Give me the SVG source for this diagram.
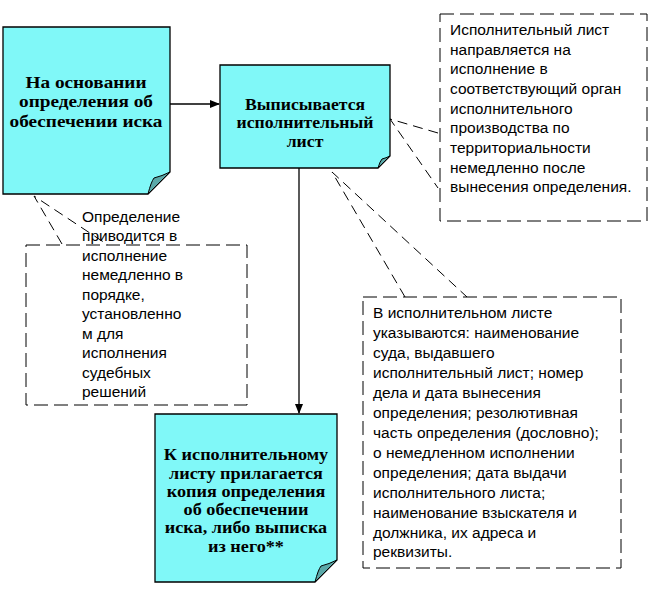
<svg xmlns="http://www.w3.org/2000/svg" width="660" height="595" viewBox="0 0 660 595">
<defs>
<marker id="arr" markerWidth="10" markerHeight="8" refX="9" refY="4" orient="auto" markerUnits="userSpaceOnUse">
<path d="M0,0 L10,4 L0,8 Z" fill="#000"/>
</marker>
<style>
.note{fill:#80f8f8;stroke:#000;stroke-width:1.3}
.fold{fill:#5aa8a8;stroke:#000;stroke-width:1}
.bt{font-family:"Liberation Serif",serif;font-size:17px;font-weight:bold;fill:#000;text-anchor:middle}
.ct{font-family:"Liberation Sans",sans-serif;font-size:15.5px;fill:#000}
.dash{fill:#fff;stroke:#000;stroke-width:1;stroke-dasharray:14,6}
.dl{fill:none;stroke:#000;stroke-width:1;stroke-dasharray:10,6}
.ln{fill:none;stroke:#000;stroke-width:1.3}
</style>
</defs>
<rect width="660" height="595" fill="#fff"/>

<g id="callout-right">
<rect class="dash" x="440" y="14" width="207" height="207"/>
<text class="ct" x="450"><tspan x="450" y="35">Исполнительный лист</tspan><tspan x="450" y="55">направляется на</tspan><tspan x="450" y="74">исполнение в</tspan><tspan x="450" y="94">соответствующий орган</tspan><tspan x="450" y="114">исполнительного</tspan><tspan x="450" y="133">производства по</tspan><tspan x="450" y="153">территориальности</tspan><tspan x="450" y="173">немедленно после</tspan><tspan x="450" y="192">вынесения определения.</tspan></text>
</g>

<g id="callout-left">
<rect class="dash" x="26" y="245" width="221" height="160"/>
<text class="ct"><tspan x="82" y="222">Определение</tspan><tspan x="82" y="241">приводится в</tspan><tspan x="82" y="261">исполнение</tspan><tspan x="82" y="280">немедленно в</tspan><tspan x="82" y="300">порядке,</tspan><tspan x="82" y="319">установленно</tspan><tspan x="82" y="339">м для</tspan><tspan x="82" y="358">исполнения</tspan><tspan x="82" y="378">судебных</tspan><tspan x="82" y="397">решений</tspan></text>
</g>

<g id="callout-bottom">
<rect class="dash" x="363" y="297" width="258" height="271"/>
<text class="ct"><tspan x="373" y="318">В исполнительном листе</tspan><tspan x="373" y="338">указываются: наименование</tspan><tspan x="373" y="358">суда, выдавшего</tspan><tspan x="373" y="378">исполнительный лист; номер</tspan><tspan x="373" y="398">дела и дата вынесения</tspan><tspan x="373" y="418">определения; резолютивная</tspan><tspan x="373" y="438">часть определения (дословно);</tspan><tspan x="373" y="458">о немедленном исполнении</tspan><tspan x="373" y="478">определения; дата выдачи</tspan><tspan x="373" y="498">исполнительного листа;</tspan><tspan x="373" y="518">наименование взыскателя и</tspan><tspan x="373" y="538">должника, их адреса и</tspan><tspan x="373" y="557">реквизиты.</tspan></text>
</g>

<g id="connectors">
<line class="ln" x1="170" y1="104" x2="219" y2="104" marker-end="url(#arr)"/>
<line class="ln" x1="299" y1="168" x2="299" y2="413" marker-end="url(#arr)"/>
<path class="dl" d="M438,133 L390,119 L438,188"/>
<path class="dl" d="M62,244 L34,196 L108,245"/>
<path class="dl" d="M405,297 L332,172 L467,297"/>
</g>

<g id="node1">
<path class="note" d="M3,27 H170 V172 L148,194 H3 Z"/>
<path class="fold" d="M148,194 Q151,182 154,178 Q162,176 170,172 Z"/>
<text class="bt" style="font-size:17.5px" transform="translate(86,0) scale(1.1,1)"><tspan x="0" y="88">На основании</tspan><tspan x="0" y="107">определения об</tspan><tspan x="0" y="127">обеспечении иска</tspan></text>
</g>

<g id="node2">
<path class="note" d="M220,65 H390 V156 L378,168 H220 Z"/>
<path class="fold" d="M378,168 Q380,161 382,159 Q386,158 390,156 Z"/>
<text class="bt" transform="translate(305,0) scale(1.04,1)"><tspan x="0" y="110">Выписывается</tspan><tspan x="0" y="128">исполнительный</tspan><tspan x="0" y="147">лист</tspan></text>
</g>

<g id="node3">
<path class="note" d="M155,414 H337 V560 L315,582 H155 Z"/>
<path class="fold" d="M315,582 Q318,570 321,566 Q329,564 337,560 Z"/>
<text class="bt" transform="translate(246,0) scale(1.07,1)"><tspan x="0" y="460">К исполнительному</tspan><tspan x="0" y="479">листу прилагается</tspan><tspan x="0" y="497">копия определения</tspan><tspan x="0" y="515">об обеспечении</tspan><tspan x="0" y="533">иска, либо выписка</tspan><tspan x="0" y="552">из него**</tspan></text>
</g>
</svg>
